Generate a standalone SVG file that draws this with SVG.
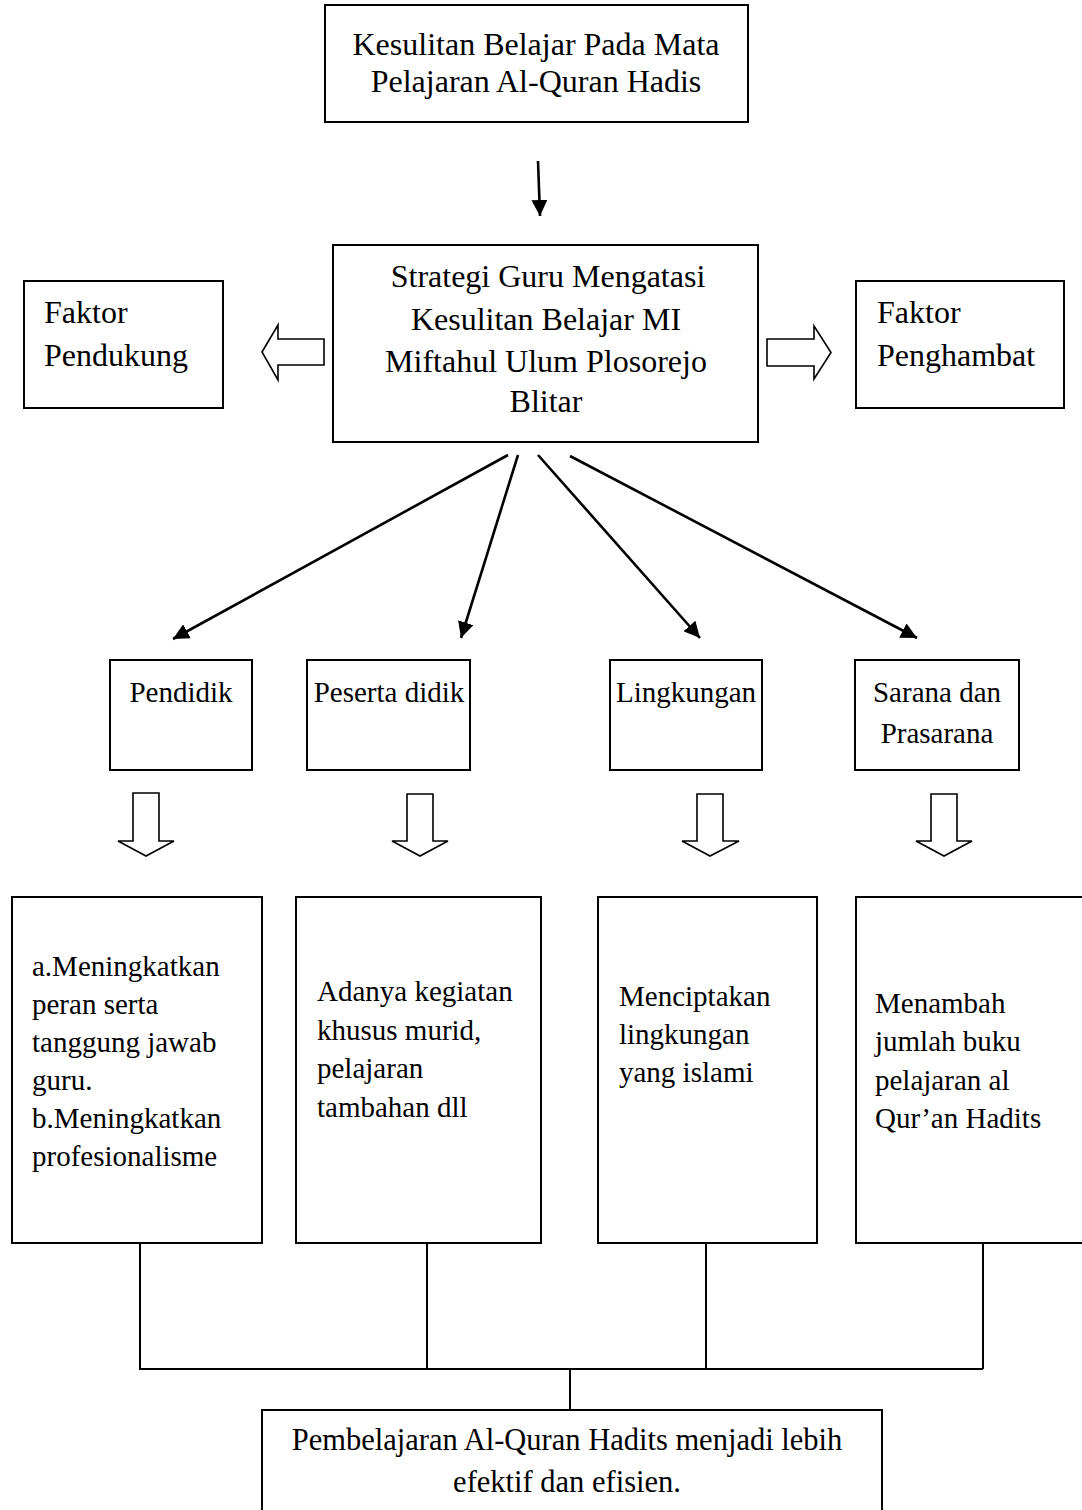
<svg xmlns="http://www.w3.org/2000/svg" width="1082" height="1510" viewBox="0 0 1082 1510">
<style>
.box{fill:#fff;stroke:#000;stroke-width:2}
.t{font-family:"Liberation Serif","Times New Roman",serif;font-size:32px;fill:#000}
.s{font-size:29px}
.r{font-size:30.5px}
.q{font-size:29px}
.c{text-anchor:middle}
.blk{fill:#fff;stroke:#000;stroke-width:1.6;stroke-linejoin:miter}
.ln{stroke:#000;stroke-width:2;fill:none}
.ar{stroke:#000;stroke-width:2.6;fill:none}
</style>
<defs>
<marker id="ah" viewBox="0 0 10 10" refX="10" refY="5" markerUnits="userSpaceOnUse" markerWidth="16" markerHeight="16" orient="auto">
<path d="M0,0 L10,5 L0,10 Z" fill="#000"/>
</marker>
</defs>
<rect width="1082" height="1510" fill="#fff"/>

<g id="n-top">
<rect class="box" x="325" y="5" width="423" height="117"/>
<text class="t c" x="536" y="55">Kesulitan Belajar Pada Mata</text>
<text class="t c" x="536" y="92">Pelajaran Al-Quran Hadis</text>
</g>

<g id="n-strategi">
<rect class="box" x="333" y="245" width="425" height="197"/>
<text class="t c" x="548" y="287">Strategi Guru Mengatasi</text>
<text class="t c" x="546" y="330">Kesulitan Belajar MI</text>
<text class="t c" x="546" y="372">Miftahul Ulum Plosorejo</text>
<text class="t c" x="546" y="412">Blitar</text>
</g>

<g id="n-pendukung">
<rect class="box" x="24" y="281" width="199" height="127"/>
<text class="t" x="44" y="323">Faktor</text>
<text class="t" x="44" y="366">Pendukung</text>
</g>

<g id="n-penghambat">
<rect class="box" x="856" y="281" width="208" height="127"/>
<text class="t" x="877" y="323">Faktor</text>
<text class="t" x="877" y="366">Penghambat</text>
</g>

<g id="n-pendidik">
<rect class="box" x="110" y="660" width="142" height="110"/>
<text class="t q c" x="181" y="702">Pendidik</text>
</g>
<g id="n-peserta">
<rect class="box" x="307" y="660" width="163" height="110"/>
<text class="t q c" x="389" y="702">Peserta didik</text>
</g>
<g id="n-lingkungan">
<rect class="box" x="610" y="660" width="152" height="110"/>
<text class="t q c" x="686" y="702">Lingkungan</text>
</g>
<g id="n-sarana">
<rect class="box" x="855" y="660" width="164" height="110"/>
<text class="t q c" x="937" y="702">Sarana dan</text>
<text class="t q c" x="937" y="743">Prasarana</text>
</g>

<g id="n-b1">
<rect class="box" x="12" y="897" width="250" height="346"/>
<text class="t s" x="32" y="976">a.Meningkatkan</text>
<text class="t s" x="32" y="1014">peran serta</text>
<text class="t s" x="32" y="1052">tanggung jawab</text>
<text class="t s" x="32" y="1090">guru.</text>
<text class="t s" x="32" y="1128">b.Meningkatkan</text>
<text class="t s" x="32" y="1166">profesionalisme</text>
</g>
<g id="n-b2">
<rect class="box" x="296" y="897" width="245" height="346"/>
<text class="t s" x="317" y="1001">Adanya kegiatan</text>
<text class="t s" x="317" y="1040">khusus murid,</text>
<text class="t s" x="317" y="1078">pelajaran</text>
<text class="t s" x="317" y="1117">tambahan dll</text>
</g>
<g id="n-b3">
<rect class="box" x="598" y="897" width="219" height="346"/>
<text class="t s" x="619" y="1006">Menciptakan</text>
<text class="t s" x="619" y="1044">lingkungan</text>
<text class="t s" x="619" y="1082">yang islami</text>
</g>
<g id="n-b4">
<rect class="box" x="856" y="897" width="240" height="346"/>
<text class="t s" x="875" y="1013">Menambah</text>
<text class="t s" x="875" y="1051">jumlah buku</text>
<text class="t s" x="875" y="1090">pelajaran al</text>
<text class="t s" x="875" y="1128">Qur’an Hadits</text>
</g>

<g id="n-result">
<rect class="box" x="262" y="1410" width="620" height="110"/>
<text class="t r c" x="567" y="1450">Pembelajaran Al-Quran Hadits menjadi lebih</text>
<text class="t r c" x="567" y="1492">efektif dan efisien.</text>
</g>

<g id="connectors">
<line class="ar" x1="538" y1="161" x2="540" y2="216" marker-end="url(#ah)"/>
<polygon class="blk" points="262,352 278,325 278,339 324,339 324,365 278,365 278,380"/>
<polygon class="blk" points="767,339 814,339 814,326 831,352.5 814,379 814,366 767,366"/>
<line class="ar" x1="508" y1="455" x2="173" y2="639" marker-end="url(#ah)"/>
<line class="ar" x1="518" y1="455" x2="461" y2="638" marker-end="url(#ah)"/>
<line class="ar" x1="538" y1="455" x2="700" y2="638" marker-end="url(#ah)"/>
<line class="ar" x1="570" y1="456" x2="917" y2="638" marker-end="url(#ah)"/>
<polygon class="blk" points="133,793 159,793 159,841 174,841 146,856 118,841 133,841"/>
<polygon class="blk" points="407,794 433,794 433,841 448,841 420,856 392,841 407,841"/>
<polygon class="blk" points="697,794 723,794 723,841 739,841 710,856 682,841 697,841"/>
<polygon class="blk" points="931,794 957,794 957,841 972,841 944,856 916,841 931,841"/>
<polyline class="ln" points="140,1243 140,1369 983,1369"/>
<line class="ln" x1="427" y1="1243" x2="427" y2="1369"/>
<line class="ln" x1="706" y1="1243" x2="706" y2="1369"/>
<line class="ln" x1="983" y1="1243" x2="983" y2="1369"/>
<line class="ln" x1="570" y1="1369" x2="570" y2="1410"/>
</g>
</svg>
